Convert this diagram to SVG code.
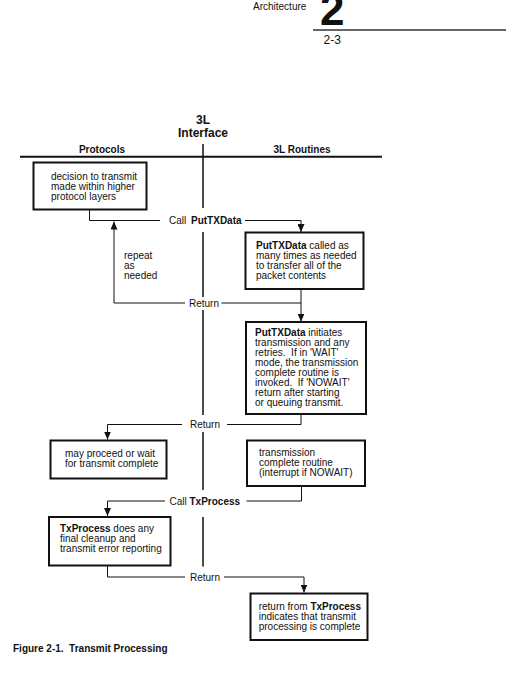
<svg xmlns="http://www.w3.org/2000/svg" width="506" height="677" viewBox="0 0 506 677">
<style>
text{font-family:"Liberation Sans",Arial,sans-serif;font-size:10px;fill:#111}
.b{font-weight:bold}
.box{fill:#fff;stroke:#111;stroke-width:2}
.c{fill:none;stroke:#111;stroke-width:1}
.ifc{fill:none;stroke:#111;stroke-width:1.5}
</style>
<defs>
<marker id="ah" markerWidth="8" markerHeight="7" refX="8" refY="3.5" orient="auto" markerUnits="userSpaceOnUse"><path d="M0,0 L8,3.5 L0,7 Z" fill="#111"/></marker>
</defs>
<rect width="506" height="677" fill="#fff"/>
<g id="page-header">
<text x="253" y="9.5">Architecture</text>
<text x="320" y="25" class="b" style="font-size:44px">2</text>
<line x1="313" y1="30" x2="506" y2="30" stroke="#333" stroke-width="1.5"/>
<text x="323.5" y="43.5" style="font-size:12px">2-3</text>
</g>
<g id="column-headers">
<text x="203" y="124" class="b" text-anchor="middle" style="font-size:12px">3L</text>
<text x="203" y="137" class="b" text-anchor="middle" style="font-size:12px">Interface</text>
<text x="102" y="152.5" class="b" text-anchor="middle">Protocols</text>
<text x="302" y="152.5" class="b" text-anchor="middle">3L Routines</text>
<line x1="20" y1="156.7" x2="382" y2="156.7" stroke="#111" stroke-width="2"/>
</g>
<g id="connectors">
<path class="ifc" d="M203,144 V208 M203,232 V297 M203,310 V415 M203,432 V490 M203,517 V566.5"/>
<path class="c" d="M89.5,210 V220.5 H160"/>
<path class="c" d="M245,220.5 H301 V232" marker-end="url(#ah)"/>
<path class="c" d="M301,289 V321.5" marker-end="url(#ah)"/>
<path class="c" d="M301,303 H221.5"/>
<path class="c" d="M185,303 H114 V221.5" marker-end="url(#ah)"/>
<path class="c" d="M301,414 V424.5 H227"/>
<path class="c" d="M182,424.5 H107.5 V439.5" marker-end="url(#ah)"/>
<path class="c" d="M301.5,486 V501 H246.5"/>
<path class="c" d="M165,501 H107.5 V516" marker-end="url(#ah)"/>
<path class="c" d="M107.5,565.5 V577 H185"/>
<path class="c" d="M224,577 H304 V592.5" marker-end="url(#ah)"/>
<text x="169" y="224">Call</text><text x="191" y="224" class="b">PutTXData</text>
<text x="124" y="259">repeat</text>
<text x="124" y="269">as</text>
<text x="124" y="279">needed</text>
<text x="189" y="306.5">Return</text>
<text x="190" y="428">Return</text>
<text x="169.5" y="504.5">Call <tspan class="b">TxProcess</tspan></text>
<text x="190" y="580.5">Return</text>
</g>
<g id="decision">
<rect class="box" x="33.5" y="162.5" width="113" height="47"/>
<text x="51" y="180">decision to transmit</text>
<text x="51" y="190">made within higher</text>
<text x="51" y="200">protocol layers</text>
</g>
<g id="puttxdata-called">
<rect class="box" x="245.5" y="232.5" width="118" height="56.5"/>
<text x="256" y="248.5"><tspan class="b">PutTXData</tspan> called as</text>
<text x="256" y="258.5">many times as needed</text>
<text x="256" y="268.5">to transfer all of the</text>
<text x="256" y="278.5">packet contents</text>
</g>
<g id="puttxdata-initiates">
<rect class="box" x="246" y="322" width="120" height="92"/>
<text x="255" y="336"><tspan class="b">PutTXData</tspan> initiates</text>
<text x="255" y="346">transmission and any</text>
<text x="255" y="356" xml:space="preserve">retries.  If in 'WAIT'</text>
<text x="255" y="366">mode, the transmission</text>
<text x="255" y="376">complete routine is</text>
<text x="255" y="386" xml:space="preserve">invoked.  If 'NOWAIT'</text>
<text x="255" y="396">return after starting</text>
<text x="255" y="406">or queuing transmit.</text>
</g>
<g id="may-proceed">
<rect class="box" x="50.5" y="440.5" width="116" height="38"/>
<text x="65" y="456.7">may proceed or wait</text>
<text x="65" y="466.7">for transmit complete</text>
</g>
<g id="tx-complete-routine">
<rect class="box" x="247" y="440.5" width="118" height="45.5"/>
<text x="259" y="456">transmission</text>
<text x="259" y="466">complete routine</text>
<text x="259" y="476">(interrupt if NOWAIT)</text>
</g>
<g id="txprocess">
<rect class="box" x="49" y="517" width="121.5" height="48.5"/>
<text x="60" y="531.7"><tspan class="b">TxProcess</tspan> does any</text>
<text x="60" y="541.7">final cleanup and</text>
<text x="60" y="551.7">transmit error reporting</text>
</g>
<g id="return-from-txprocess">
<rect class="box" x="250.5" y="593.5" width="117" height="46.5"/>
<text x="258.7" y="610">return from <tspan class="b">TxProcess</tspan></text>
<text x="258.7" y="620">indicates that transmit</text>
<text x="258.7" y="630">processing is complete</text>
</g>
<text x="13" y="651.5" class="b" xml:space="preserve">Figure 2-1.  Transmit Processing</text>
</svg>
